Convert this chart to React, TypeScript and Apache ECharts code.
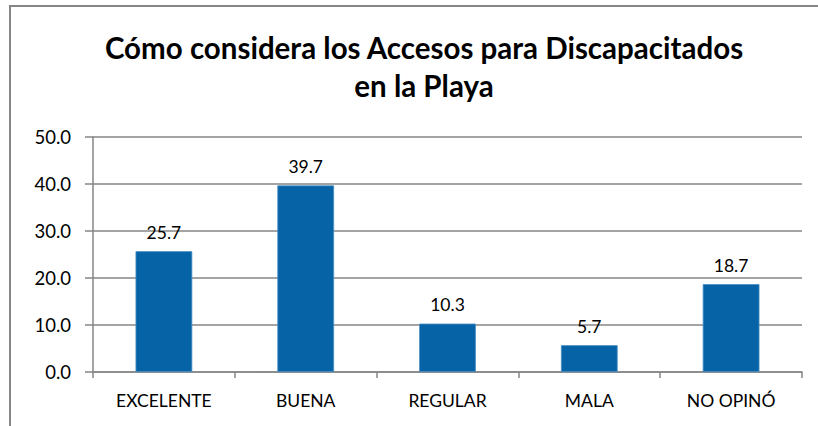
import React, { useEffect, useRef } from "react";
import * as echarts from "echarts";

const categories = ["EXCELENTE", "BUENA", "REGULAR", "MALA", "NO OPINÓ"];
const values = [25.7, 39.7, 10.3, 5.7, 18.7];
const titleLines = ["Cómo considera los Accesos para Discapacitados", "en la Playa"];

const FONT = "Lato, 'Noto Sans', sans-serif";

export default function App() {
  const ref = useRef<HTMLDivElement>(null);
  useEffect(() => {
    if (!ref.current) return;
    const chart = echarts.init(ref.current, null, { renderer: "svg" });
    chart.setOption({
      animation: false,
      backgroundColor: "#ffffff",
      title: {
        text: titleLines.join("\n"),
        left: 419,
        textAlign: "center",
        top: 23,
        textStyle: {
          fontFamily: FONT,
          fontWeight: "bold",
          fontSize: 29.5,
          lineHeight: 38,
          color: "#000000",
        },
      },
      graphic: [
        {
          type: "rect",
          shape: { x: 10, y: 6, width: 830, height: 440 },
          style: { fill: "none", stroke: "#868686", lineWidth: 2 },
          silent: true,
        },
      ],
      grid: { left: 93, right: 16, top: 137, bottom: 54 },
      xAxis: {
        type: "category",
        data: categories,
        axisLine: { show: true, lineStyle: { color: "#868686", width: 1.5 } },
        axisTick: { show: true, length: 6, alignWithLabel: false, lineStyle: { color: "#868686", width: 1.5 } },
        axisLabel: { color: "#000000", fontFamily: FONT, fontSize: 17.5, margin: 19 },
      },
      yAxis: {
        type: "value",
        min: 0,
        max: 50,
        interval: 10,
        axisLine: { show: true, lineStyle: { color: "#868686", width: 1.5 } },
        axisTick: { show: true, inside: false, length: 8, lineStyle: { color: "#868686", width: 1.5 } },
        splitLine: { show: true, lineStyle: { color: "#868686", width: 1.5 } },
        axisLabel: {
          color: "#000000",
          fontFamily: FONT,
          fontSize: 18.5,
          margin: 22,
          formatter: (v: number) => v.toFixed(1),
        },
      },
      series: [
        {
          type: "bar",
          data: values,
          barWidth: "40%",
          itemStyle: { color: "#0563a6", borderColor: "#4a8fc4", borderWidth: 0.8 },
          label: {
            show: true,
            position: "top",
            distance: 10,
            color: "#000000",
            fontFamily: FONT,
            fontSize: 17.5,
            formatter: (p: any) => Number(p.value).toFixed(1),
          },
        },
      ],
    });
    return () => chart.dispose();
  }, []);
  return (
    <div
      ref={ref}
      style={{ position: "fixed", left: 0, top: 0, width: 818, height: 426 }}
    />
  );
}
